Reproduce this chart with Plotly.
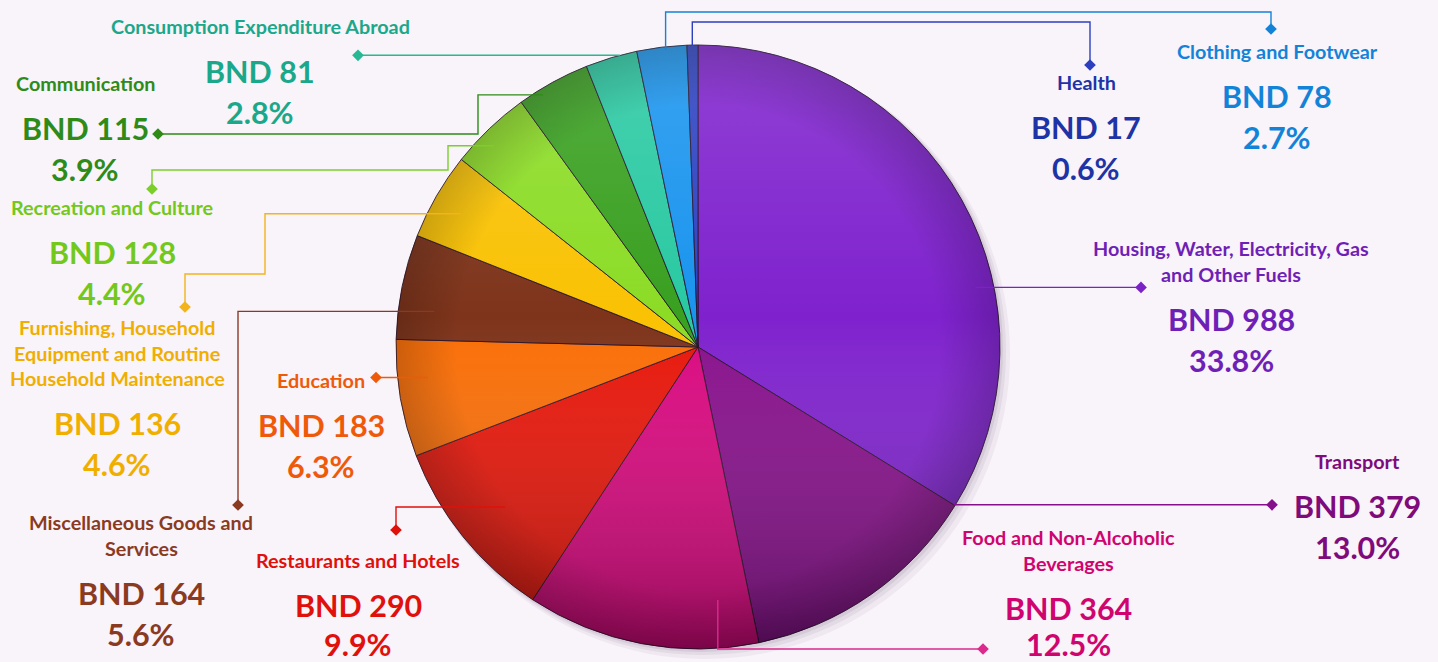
import math
import base64
import plotly.graph_objects as go

# ---------------- data ----------------
categories = [
    "Housing, Water, Electricity, Gas and Other Fuels",
    "Transport",
    "Food and Non-Alcoholic Beverages",
    "Restaurants and Hotels",
    "Education",
    "Miscellaneous Goods and Services",
    "Furnishing, Household Equipment and Routine Household Maintenance",
    "Recreation and Culture",
    "Communication",
    "Consumption Expenditure Abroad",
    "Clothing and Footwear",
    "Health",
]
values_bnd = [988, 379, 364, 290, 183, 164, 136, 128, 115, 81, 78, 17]
shares_pct = [33.8, 13.0, 12.5, 9.9, 6.3, 5.6, 4.6, 4.4, 3.9, 2.8, 2.7, 0.6]

# ---------------- styling / layout ----------------
W, H = 1438, 662
BG = "#F9F3FA"
FONT = "Lato"

slice_colors = ["#7F22CE", "#88108C", "#DA087F", "#E8160A", "#FA6E06", "#7E341B",
                "#F9C204", "#8CDC26", "#39A020", "#29C9A2", "#1994EE", "#2D42C2"]
text_colors = ["#6E1FB5", "#7F0A7A", "#D0046E", "#E0100A", "#EE5A0A", "#8B3A22",
               "#F0AF00", "#72C81B", "#2E8B17", "#1BA88A", "#1383D8", "#1E33A6"]
line_colors = ["#7A22C6", "#86108C", "#DB2A8C", "#E0100A", "#EE5A0A", "#8B3A22",
               "#F2B41A", "#7CCF2A", "#2E8B17", "#27B894", "#1383D8", "#2C40BF"]

# wrapped display text of the category titles
title_wrap = [
    ["Housing, Water, Electricity, Gas", "and Other Fuels"],
    ["Transport"],
    ["Food and Non-Alcoholic", "Beverages"],
    ["Restaurants and Hotels"],
    ["Education"],
    ["Miscellaneous Goods and", "Services"],
    ["Furnishing, Household", "Equipment and Routine", "Household Maintenance"],
    ["Recreation and Culture"],
    ["Communication"],
    ["Consumption Expenditure Abroad"],
    ["Clothing and Footwear"],
    ["Health"],
]
# label block: centre x, y of first title line (pixels)
label_pos = [(1231, 248), (1357, 461), (1068, 537), (358, 560), (321, 380), (141, 522),
             (117, 327), (112, 207), (85, 83), (260, 26), (1277, 51), (1086, 82)]
# leader anchor inside slice: (fraction along slice, fraction of radius)
anchor = [(0.64, 0.94), (0.0, 0.995), (0.16, 0.84), (0.48, 0.83), (0.65, 0.90), (0.31, 0.88),
          (0.46, 0.90), (0.39, 0.95), (0.30, 0.98), (0.67, 1.0), (0.57, 0.99), (0.48, 1.0)]
# leader elbows: ('h', x) horizontal to x, ('v', y) vertical to y ; last point = diamond
leader_moves = [
    [("h", 1141)],
    [("h", 1272)],
    [("v", 649), ("h", 983)],
    [("h", 396), ("v", 530)],
    [("h", 376)],
    [("h", 238), ("v", 505)],
    [("h", 265), ("v", 274), ("h", 185), ("v", 307)],
    [("h", 448), ("v", 170), ("h", 152), ("v", 189)],
    [("h", 478), ("v", 134), ("h", 158)],
    [("h", 358)],
    [("v", 12), ("h", 1271), ("v", 29)],
    [("v", 22), ("h", 1090), ("v", 65)],
]

CX, CY, R = 698, 347, 302
TITLE_SIZE = 19.8
NUM_SIZE = 30.5
TITLE_STEP = 25.5
NUM_GAP = 45
PCT_GAP = 41

fig = go.Figure()

# pie
fig.add_trace(go.Pie(
    labels=categories, values=values_bnd, sort=False, direction="clockwise", rotation=0,
    marker=dict(colors=slice_colors, line=dict(color="rgba(35,15,40,0.85)", width=1)),
    textinfo="none", hoverinfo="label+value+percent", showlegend=False,
    domain=dict(x=[(CX - R) / W, (CX + R) / W], y=[1 - (CY + R) / H, 1 - (CY - R) / H]),
))

total = sum(values_bnd)
cum = 0.0
shapes = []
annotations = []
dx, dy, dc = [], [], []

# soft shadow behind pie
for off, alpha in [(10, 0.05), (6, 0.07), (3, 0.08)]:
    shapes.append(dict(type="circle", xref="x", yref="y", layer="below",
                       x0=CX - R + off * 0.4, x1=CX + R + off, y0=CY - R + off * 0.4, y1=CY + R + off,
                       fillcolor=f"rgba(60,40,70,{alpha})", line=dict(width=0)))

for i, v in enumerate(values_bnd):
    start = cum / total
    end = (cum + v) / total
    cum += v
    t, rf = anchor[i]
    theta = 2 * math.pi * (start + t * (end - start))
    x = CX + rf * R * math.sin(theta)
    y = CY - rf * R * math.cos(theta)
    path = f"M {x:.1f} {y:.1f}"
    for kind, val in leader_moves[i]:
        if kind == "h":
            x = val
        else:
            y = val
        path += f" L {x:.1f} {y:.1f}"
    shapes.append(dict(type="path", xref="x", yref="y", layer="above", path=path,
                       line=dict(color=line_colors[i], width=1.4)))
    dx.append(x); dy.append(y); dc.append(line_colors[i])

    # labels
    lx, ly = label_pos[i]
    col = text_colors[i]
    for k, line in enumerate(title_wrap[i]):
        annotations.append(dict(x=lx, y=ly + k * TITLE_STEP, xref="x", yref="y", text=f"<b>{line}</b>",
                                showarrow=False, xanchor="center", yanchor="middle",
                                font=dict(family=FONT, size=TITLE_SIZE, color=col)))
    ny = ly + (len(title_wrap[i]) - 1) * TITLE_STEP + NUM_GAP
    annotations.append(dict(x=lx, y=ny, xref="x", yref="y", text=f"<b>BND {v}</b>",
                            showarrow=False, xanchor="center", yanchor="middle",
                            font=dict(family=FONT, size=NUM_SIZE, color=col)))
    annotations.append(dict(x=lx, y=min(ny + PCT_GAP, H - 18), xref="x", yref="y",
                            text=f"<b>{shares_pct[i]:.1f}%</b>",
                            showarrow=False, xanchor="center", yanchor="middle",
                            font=dict(family=FONT, size=NUM_SIZE, color=col)))

fig.add_trace(go.Scatter(x=dx, y=dy, mode="markers", hoverinfo="skip", showlegend=False,
                         marker=dict(symbol="diamond", size=9, color=dc, line=dict(width=0))))

# glossy shading overlay (vertical light-to-dark gradient clipped to the pie disc)
svg = f"""<svg xmlns='http://www.w3.org/2000/svg' width='{2*R}' height='{2*R}' viewBox='0 0 {2*R} {2*R}'>
<defs>
<linearGradient id='g' x1='0' y1='0' x2='0' y2='1'>
<stop offset='0' stop-color='#ffffff' stop-opacity='0.14'/>
<stop offset='0.45' stop-color='#ffffff' stop-opacity='0.0'/>
<stop offset='1' stop-color='#000000' stop-opacity='0.32'/>
</linearGradient>
<radialGradient id='e' cx='0.5' cy='0.5' r='0.5'>
<stop offset='0.8' stop-color='#000000' stop-opacity='0'/>
<stop offset='1' stop-color='#000000' stop-opacity='0.18'/>
</radialGradient>
</defs>
<circle cx='{R}' cy='{R}' r='{R}' fill='url(#g)'/>
<circle cx='{R}' cy='{R}' r='{R}' fill='url(#e)'/>
</svg>"""
src = "data:image/svg+xml;base64," + base64.b64encode(svg.encode()).decode()

fig.update_layout(
    width=W, height=H, margin=dict(l=0, r=0, t=0, b=0),
    paper_bgcolor=BG, plot_bgcolor="rgba(0,0,0,0)",
    xaxis=dict(range=[0, W], visible=False, fixedrange=True, domain=[0, 1]),
    yaxis=dict(range=[H, 0], visible=False, fixedrange=True, domain=[0, 1]),
    shapes=shapes, annotations=annotations, showlegend=False,
    images=[dict(source=src, xref="x", yref="y", x=CX - R, y=CY - R, sizex=2 * R, sizey=2 * R,
                 xanchor="left", yanchor="top", sizing="stretch", layer="above")],
)

fig.write_html("out.html", config={"displayModeBar": False},
               post_script="document.body.style.margin='0';document.body.style.overflow='hidden';")
